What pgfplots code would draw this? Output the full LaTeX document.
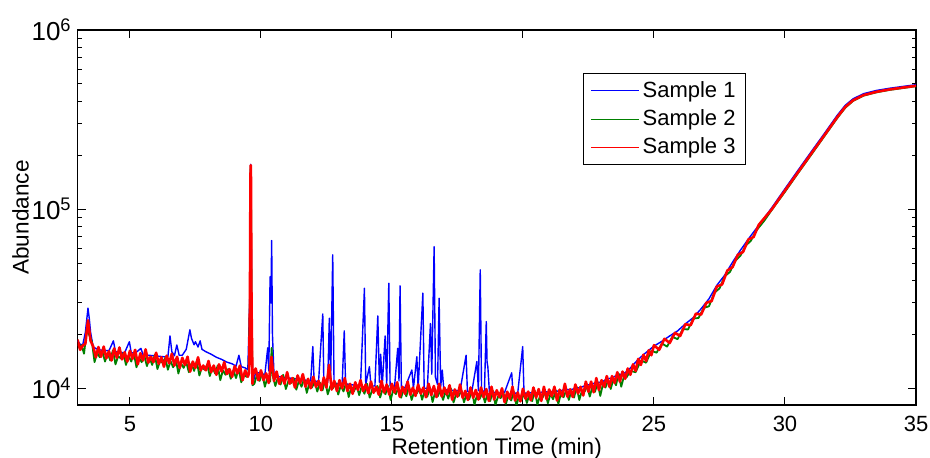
\documentclass[border=0pt]{standalone}
\usepackage{fontspec}
\setmainfont{Liberation Sans}
\usepackage{pgfplots}
\pgfplotsset{compat=1.18}
\definecolor{mblue}{rgb}{0,0,1}
\definecolor{mgreen}{rgb}{0,0.5,0}
\definecolor{mred}{rgb}{1,0,0}
\begin{document}
\begin{tikzpicture}
\useasboundingbox (0,0) rectangle (465pt,229pt);
\begin{axis}[
  at={(38.75pt,26.5pt)}, anchor=south west,
  scale only axis, width=419.25pt, height=187.5pt,
  xmin=3, xmax=35, ymode=log, ymin=8070, ymax=1e6,
  xtick={5,10,15,20,25,30,35},
  xticklabels={5,10,15,20,25,30,35},
  ytick={1e4,1e5,1e6},
  yticklabels={10\textsuperscript{4},10\textsuperscript{5},10\textsuperscript{6}},
  tick align=inside,
  major tick length=4pt, minor tick length=2pt,
  every tick/.style={black, line width=0.5pt},
  axis line style={line width=0.7pt},
  xticklabel style={font=\fontsize{11}{13}\selectfont, anchor=base, yshift=-13.5pt},
  yticklabel style={font=\fontsize{13}{15}\selectfont, inner sep=0pt, xshift=-2.75pt},
  xlabel={Retention Time (min)},
  ylabel={Abundance},
  xlabel style={font=\fontsize{11.3}{13}\selectfont, at={(axis description cs:0.5,-0.1333)}, anchor=base},
  ylabel style={font=\fontsize{11.3}{13}\selectfont, at={(axis description cs:-0.068,0.5)}, anchor=center},
  no markers,
  legend style={at={(0.6029,0.8853)}, anchor=north west, draw=black, line width=0.6pt,
    font=\fontsize{11}{13}\selectfont, inner xsep=3.5pt, inner ysep=1.6pt, row sep=0pt,
    nodes={inner xsep=1.5pt, inner ysep=2.3pt}, cells={anchor=west}},
  legend image code/.code={\draw[#1, line width=0.5pt] (0pt,0pt) -- (24pt,0pt);},
]
% Sample 1
\addplot[mblue, line width=0.7pt, line join=round] coordinates {
(3.0,18500)(3.1,17600)(3.2,17500)(3.3,20500)(3.4,28000)(3.45,24500)(3.5,20500)(3.6,17000)(3.8,16400)
(4.0,16300)(4.2,16200)(4.37,18400)(4.45,16000)(4.6,15900)(4.8,15800)(4.98,18200)(5.05,15800)(5.2,15700)
(5.42,16700)(5.5,15400)(5.7,15300)(5.9,15200)(6.1,15100)(6.3,15000)(6.45,15000)(6.53,19600)(6.6,16000)
(6.7,15200)(6.79,17450)(6.88,15300)(7.0,15300)(7.15,16500)(7.29,21200)(7.35,19000)(7.45,17500)(7.5,18200)
(7.6,17000)(7.68,18400)(7.75,16500)(7.9,16000)(8.1,15500)(8.3,14900)(8.5,14500)(8.7,14000)(8.9,13700)
(9.05,13300)(9.16,15300)(9.25,13200)(9.4,13000)(9.5,12700)(9.58,35000)(9.60,150000)(9.61,178000)(9.62,150000)
(9.64,35000)(9.68,10400)(9.8,12300)(10.0,12100)(10.15,11900)(10.26,16800)(10.3,12500)(10.35,42000)(10.38,30000)
(10.41,66800)(10.44,20000)(10.5,11800)(10.7,11600)(10.9,11500)(11.1,11400)(11.3,11300)(11.5,11200)(11.7,11100)
(11.9,11000)(11.98,17100)(12.03,11000)(12.2,10900)(12.36,26000)(12.4,11100)(12.55,10800)(12.61,24600)(12.66,11000)
(12.74,55600)(12.79,10700)(12.95,10600)(13.1,10500)(13.18,20900)(13.23,10600)(13.4,10500)(13.6,10400)(13.8,10400)
(13.95,36200)(14.0,10500)(14.14,13200)(14.2,10300)(14.35,10300)(14.46,25350)(14.52,10800)(14.57,15500)(14.63,10300)
(14.74,19600)(14.8,10400)(14.88,38600)(14.93,10300)(15.1,10200)(15.22,16700)(15.27,11000)(15.31,37300)(15.36,10100)
(15.5,10100)(15.76,12650)(15.82,10000)(15.95,15000)(16.0,10000)(16.18,34000)(16.23,10000)(16.35,10000)(16.47,23000)
(16.52,12000)(16.61,61800)(16.66,11500)(16.74,10500)(16.80,31800)(16.86,10200)(16.92,12650)(16.98,9800)(17.2,9800)
(17.4,9700)(17.6,9700)(17.83,15300)(17.88,9600)(18.05,9600)(18.24,14100)(18.30,9700)(18.37,45800)(18.42,9700)
(18.53,9600)(18.60,23550)(18.63,14000)(18.66,13200)(18.72,9500)(18.9,9500)(19.1,9400)(19.3,9500)(19.57,12200)
(19.62,9400)(19.8,9400)(19.99,17100)(20.04,9400)(20.2,9400)(20.4,9500)(20.6,9400)(20.8,9600)(21.0,9500)
(21.2,9700)(21.4,9600)(21.6,9900)(21.8,9800)(22.0,10000)(22.2,10100)(22.4,10400)(22.6,10500)(22.8,10800)
(23.0,10800)(23.2,11300)(23.4,11400)(23.6,11900)(23.8,12000)(24.0,12500)(24.2,13500)(24.4,14500)(24.6,15400)
(24.8,16300)(25.0,17200)(25.3,18300)(25.6,19600)(25.9,20900)(26.2,22900)(26.5,24800)(26.8,27800)(27.1,31600)
(27.4,37600)(27.7,42800)(28.0,50600)(28.3,59000)(28.6,68000)(28.9,77800)(29.2,89000)(29.5,102000)(30.0,130000)
(30.5,165000)(31.0,209000)(31.5,264000)(32.0,335000)(32.3,380000)(32.6,413000)(33.0,441000)(33.5,460000)
(34.0,473000)(34.5,484000)(35.0,495000)
};
% Sample 2
\addplot[mgreen, line width=0.9pt, line join=round] coordinates {
(3.05,16700)(3.15,17400)(3.25,15600)(3.35,21100)(3.45,19800)(3.55,18200)(3.65,14000)(3.75,15800)(3.85,14900)(3.95,16100)
(4.05,14100)(4.15,15800)(4.25,14300)(4.35,16300)(4.45,13600)(4.55,15100)(4.65,14700)(4.75,15700)(4.85,13500)(4.95,15200)
(5.05,14100)(5.15,15700)(5.25,13100)(5.35,14800)(5.45,14000)(5.55,15200)(5.65,13300)(5.75,14900)(5.85,13500)(5.95,15400)
(6.05,12800)(6.15,14200)(6.25,13900)(6.35,14800)(6.45,12700)(6.55,14200)(6.65,13100)(6.75,14600)(6.85,12100)(6.95,13800)
(7.05,13000)(7.15,14000)(7.25,12300)(7.35,13800)(7.45,12500)(7.55,14200)(7.65,11800)(7.75,13100)(7.85,12700)(7.95,13600)
(8.05,11700)(8.15,13100)(8.25,12100)(8.35,13400)(8.45,11100)(8.55,12600)(8.65,11900)(8.75,12800)(8.85,11300)(8.95,12600)
(9.05,11400)(9.15,12900)(9.25,10800)(9.35,11900)(9.45,11600)(9.53,12200)(9.58,30000)(9.60,148000)(9.61,174000)
(9.62,148000)(9.64,30000)(9.68,10400)(9.75,10600)(9.85,11900)(9.95,11000)
(10.05,12200)(10.15,10200)(10.25,11500)(10.35,10900)(10.41,16800)(10.45,11800)(10.55,10300)(10.65,11500)(10.75,10500)(10.85,11900)(10.95,9900)
(11.05,11000)(11.15,10700)(11.25,11400)(11.35,9830)(11.45,11000)(11.55,10200)(11.65,11300)(11.75,9430)(11.85,10700)(11.95,10100)
(12.05,10900)(12.15,9590)(12.25,10750)(12.35,9750)(12.45,11100)(12.55,9250)(12.65,10300)(12.75,10000)(12.85,10700)(12.95,9230)
(13.05,10400)(13.15,9600)(13.25,10700)(13.35,8940)(13.45,10200)(13.55,9620)(13.65,10400)(13.75,9160)(13.85,10300)(13.95,9320)
(14.05,10600)(14.15,8870)(14.25,9860)(14.35,9640)(14.45,10300)(14.55,8890)(14.65,9980)(14.75,9260)(14.85,10300)(14.95,8610)
(15.05,9790)(15.15,9280)(15.25,10100)(15.35,8860)(15.45,9930)(15.55,9020)(15.65,10300)(15.75,8600)(15.85,9570)(15.95,9360)
(16.05,10000)(16.15,8630)(16.25,9690)(16.35,9000)(16.45,10100)(16.55,8380)(16.65,9530)(16.75,9030)(16.85,9790)(16.95,8610)
(17.05,9650)(17.15,8760)(17.25,9980)(17.35,8330)(17.45,9270)(17.55,9060)(17.65,9710)(17.75,8350)(17.85,9380)(17.95,8690)
(18.05,9720)(18.15,8100)(18.25,9210)(18.35,8730)(18.45,9470)(18.55,8330)(18.65,9340)(18.75,8490)(18.85,9690)(18.95,8090)
(19.05,9010)(19.15,8830)(19.25,9480)(19.35,8180)(19.45,9200)(19.55,8550)(19.65,9570)(19.75,7990)(19.85,9100)(19.95,8640)
(20.05,9390)(20.15,8280)(20.25,9310)(20.35,8480)(20.45,9700)(20.55,8130)(20.65,9060)(20.75,8880)(20.85,9550)(20.95,8250)
(21.05,9310)(21.15,8680)(21.25,9760)(21.35,8190)(21.45,9370)(21.55,8920)(21.65,9730)(21.75,8610)(21.85,9710)(21.95,8870)
(22.05,10200)(22.15,8600)(22.25,9680)(22.35,9560)(22.45,10300)(22.55,8990)(22.65,10200)(22.75,9560)(22.85,10800)(22.95,9070)
(23.05,10500)(23.15,10100)(23.25,11100)(23.35,9910)(23.45,11300)(23.55,10400)(23.65,12100)(23.75,10200)(23.85,11600)(23.95,11500)
(24.1,12500)(24.3,12300)(24.5,14300)(24.7,13900)(24.9,16200)(25.1,15800)(25.3,17800)(25.5,17100)(25.7,19400)(25.9,18800)
(26.1,21400)(26.3,21300)(26.5,24500)(26.7,24700)(26.9,28100)(27.1,28700)(27.3,34100)(27.5,36100)(27.7,42200)(27.9,44600)
(28.1,51500)(28.3,55000)(28.5,62500)(28.7,66700)(28.9,75800)(29.2,85800)(29.6,104000)(30.0,125000)(30.5,159000)
(31.0,201000)(31.5,255000)(32.0,323000)(32.3,368000)(32.6,402000)(33.0,430000)(33.5,449000)(34.0,463000)(34.5,474000)(35.0,485000)
};
% Sample 3
\addplot[mred, line width=1.3pt, line join=round] coordinates {
(3.0,18700)(3.1,16400)(3.2,17300)(3.3,17700)(3.4,24000)(3.5,18400)(3.6,17100)(3.7,14900)(3.8,17000)(3.9,15000)
(4.0,17100)(4.1,14700)(4.2,16100)(4.3,14300)(4.4,16700)(4.5,14800)(4.6,16900)(4.7,14500)(4.8,15900)(4.9,14100)
(5.0,16200)(5.1,14600)(5.2,16400)(5.3,13600)(5.4,15700)(5.5,14300)(5.6,16500)(5.7,13900)(5.8,15000)(5.9,14000)
(6.0,15800)(6.1,13700)(6.2,14900)(6.3,13200)(6.4,15200)(6.5,13800)(6.6,15600)(6.7,13400)(6.8,15000)(6.9,13000)
(7.0,14800)(7.1,13500)(7.2,15000)(7.3,12400)(7.4,14100)(7.5,13000)(7.6,14900)(7.7,12600)(7.8,13400)(7.9,12600)
(8.0,14200)(8.1,12300)(8.2,13400)(8.3,11900)(8.4,13600)(8.5,12400)(8.6,14000)(8.7,12000)(8.8,12800)(8.9,11600)
(9.0,13300)(9.1,12100)(9.2,13400)(9.3,11100)(9.4,12600)(9.5,11600)(9.55,12200)(9.58,30000)(9.60,150000)
(9.61,176000)(9.62,150000)(9.64,30000)(9.68,10600)(9.7,11900)(9.8,12900)(9.9,11100)
(10.0,12600)(10.1,11100)(10.2,12100)(10.3,10700)(10.4,15000)(10.5,11000)(10.6,12400)(10.7,10600)(10.8,11700)(10.9,10600)
(11.0,12300)(11.1,10600)(11.2,11400)(11.3,10100)(11.4,11800)(11.5,10700)(11.6,12000)(11.7,10200)(11.8,11300)(11.9,10000)
(12.0,11600)(12.1,10200)(12.2,11000)(12.3,9760)(12.4,11500)(12.5,10100)(12.6,13500)(12.7,9840)(12.8,11000)(12.9,9670)
(13.0,11100)(13.1,10000)(13.2,11400)(13.3,9670)(13.4,10600)(13.5,9320)(13.6,10800)(13.7,9790)(13.8,11100)(13.9,9640)
(14.0,10500)(14.1,9390)(14.2,10900)(14.3,9450)(14.4,10200)(14.5,9210)(14.6,11000)(14.7,9470)(14.8,10500)(14.9,9220)
(15.0,10600)(15.1,9480)(15.2,10800)(15.3,8960)(15.4,10200)(15.5,9320)(15.6,10900)(15.7,9200)(15.8,10100)(15.9,9070)
(16.0,10500)(16.1,9330)(16.2,10100)(16.3,8910)(16.4,10600)(16.5,9170)(16.6,10300)(16.7,8930)(16.8,10600)(16.9,9000)
(17.0,10100)(17.1,9250)(17.2,10400)(17.3,8630)(17.4,9860)(17.5,8980)(17.6,10500)(17.7,8840)(17.8,9670)(17.9,8610)
(18.0,10100)(18.1,8860)(18.2,9790)(18.3,8650)(18.4,10100)(18.5,8900)(18.6,9910)(18.7,8500)(18.8,10200)(18.9,8660)
(19.0,9750)(19.1,8920)(19.2,10000)(19.3,8360)(19.4,9570)(19.5,8730)(19.6,10200)(19.7,8550)(19.8,9480)(19.9,8450)
(20.0,9940)(20.1,8740)(20.2,9590)(20.3,8570)(20.4,10100)(20.5,8870)(20.6,9900)(20.7,8510)(20.8,10200)(20.9,8710)
(21.0,9850)(21.1,9040)(21.2,10200)(21.3,8550)(21.4,9830)(21.5,9010)(21.6,10600)(21.7,8970)(21.8,9880)(21.9,8950)
(22.0,10500)(22.1,9360)(22.2,10200)(22.3,9120)(22.4,10900)(22.5,9570)(22.6,10900)(22.7,9510)(22.8,11400)(22.9,9770)
(23.0,11100)(23.1,10200)(23.2,11700)(23.3,10200)(23.4,11700)(23.5,10700)(23.6,12300)(23.7,10900)(23.8,12400)(23.9,11300)
(24.0,12900)(24.1,11900)(24.2,13600)(24.3,12500)(24.4,14600)(24.5,13500)(24.6,15400)(24.7,14200)(24.8,16300)(24.9,15300)
(25.0,17400)(25.2,16400)(25.4,18900)(25.6,17900)(25.8,20400)(26.0,19600)(26.2,22800)(26.4,22500)(26.6,26100)(26.8,25800)
(27.0,30000)(27.2,30700)(27.4,37000)(27.6,38000)(27.8,45400)(28.0,47500)(28.2,55600)(28.4,57700)(28.6,67600)(28.8,69900)
(29.0,81800)(29.5,100000)(30.0,127000)(30.5,161000)(31.0,204000)(31.5,258000)(32.0,327000)(32.3,372000)
(32.6,405000)(33.0,433000)(33.5,452000)(34.0,466000)(34.5,477000)(35.0,488000)
};
\legend{Sample 1,Sample 2,Sample 3}
\end{axis}
\end{tikzpicture}
\end{document}
